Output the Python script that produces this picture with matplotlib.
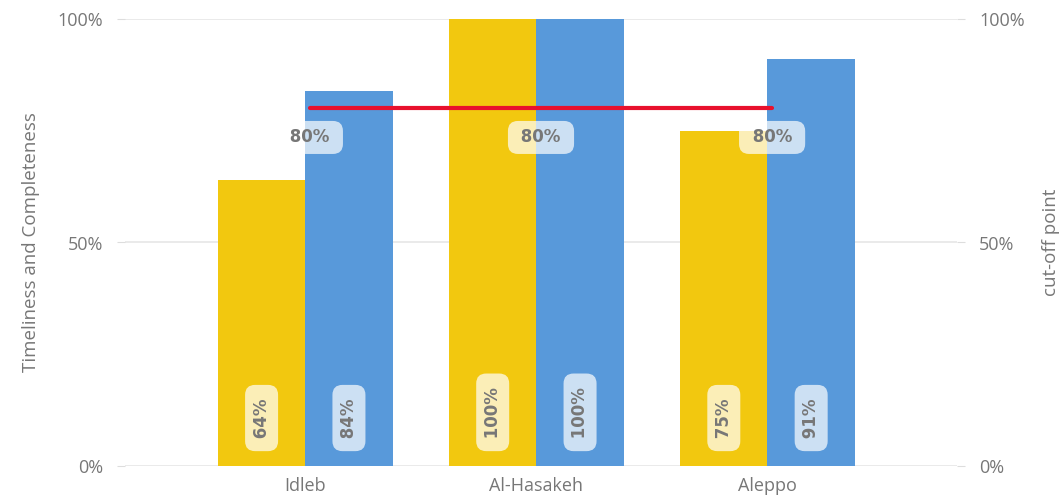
import numpy as np
import matplotlib
matplotlib.use("Agg")
import matplotlib.pyplot as plt
from matplotlib.ticker import PercentFormatter

regions = ["Idleb", "Al-Hasakeh", "Aleppo"]
timeliness = [64, 100, 75]
completeness = [84, 100, 91]
cutoff = [80, 80, 80]

YELLOW = "#F2C80F"
BLUE = "#5899DA"
GREY = "#777777"

plt.rcParams["font.family"] = ["Open Sans", "DejaVu Sans"]

fig = plt.figure(figsize=(10.64, 5.03), dpi=100)
ax = fig.add_axes([125 / 1064, 37 / 503, (957 - 125) / 1064, (466 - 19) / 503])

xs = np.arange(len(regions))
w = 0.378
ax.bar(xs - w / 2, timeliness, width=w, color=YELLOW, zorder=3)
ax.bar(xs + w / 2, completeness, width=w, color=BLUE, zorder=3)

box = dict(boxstyle="round,pad=0.45,rounding_size=0.6", fc="white", ec="none", alpha=0.7)
lbl = dict(fontsize=12, color=GREY, family=["DejaVu Sans"], fontweight="bold")
for x, a, b in zip(xs, timeliness, completeness):
    for xx, v in ((x - w / 2, a), (x + w / 2, b)):
        ax.text(xx, 5.0, f" {v}% ", rotation=90, ha="center", va="bottom",
                bbox=box, zorder=5, **lbl)

ax2 = ax.twinx()
ax2.plot(xs + 0.02, cutoff, color="#E8112D", lw=3, solid_capstyle="round", zorder=6)
for x, v in zip(xs, cutoff):
    ax2.text(x + 0.02, v - 6.5, f" {v}% ", ha="center", va="center",
             bbox=box, zorder=7, **lbl)

for a in (ax, ax2):
    a.set_ylim(0, 100)
    a.set_yticks([0, 50, 100])
    a.yaxis.set_major_formatter(PercentFormatter(decimals=0))
    a.tick_params(axis="y", colors="#DDDDDD", labelcolor=GREY, labelsize=13, length=6, pad=10)
    for s in a.spines.values():
        s.set_visible(False)
ax.set_xlim(-0.78, 2.82)
ax.grid(axis="y", color="#E6E6E6", lw=1.2, zorder=0)
ax.set_xticks(xs)
ax.set_xticklabels(regions)
ax.tick_params(axis="x", length=0, labelsize=13, labelcolor=GREY, pad=8)
ax.set_ylabel("Timeliness and Completeness", fontsize=13.5, color=GREY, labelpad=12)
ax2.set_ylabel("cut-off point", fontsize=13.5, color=GREY, labelpad=12)

fig.savefig("out.png", dpi=100)
